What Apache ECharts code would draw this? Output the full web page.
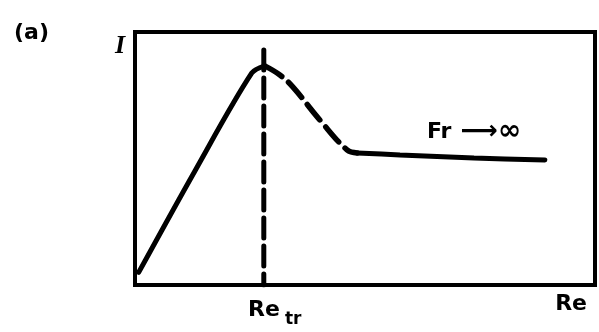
<!DOCTYPE html>
<html>
<head>
<meta charset="utf-8">
<script src="https://cdn.jsdelivr.net/npm/echarts@6/dist/echarts.min.js"></script>
<style>
  html, body { margin: 0; padding: 0; background: #fff; }
  #chart { width: 599px; height: 332px; }
</style>
</head>
<body>
<div id="chart"></div>
<script>
// Sketch of intensity I against Reynolds number Re, peaking at the transition Re_tr.
var risingBranch = [[0.8, 5], [13, 45], [25.4, 83.8], [28.2, 86.6]];
var decayBranch = [[28.2, 86.6], [31.5, 83], [34.3, 78.3], [40.2, 65.2], [46.1, 53.4], [48.3, 52.2]];
var plateauBranch = [[48.3, 52.2], [57.6, 51.4], [73.7, 50.2], [89.1, 49.4]];
var transitionLine = [[28.0, 92.9], [28.0, 0]];
var labelPoint = [[73.7, 50.2]];
var xTickValues = [28.0, 94.8];
var xTickLabels = ['{b|Re}{s|tr}', '{a|Re}'];
var plateauLabel = '{f|Fr}{r| ⟶}{i|∞}';
var yName = 'I';
var panelTag = '(a)';

var chart = echarts.init(document.getElementById('chart'));
var ink = '#000';
var boldFont = 'DejaVu Sans';

chart.setOption({
  animation: false,
  backgroundColor: '#fff',
  title: {
    text: panelTag, left: 9, top: 17,
    textStyle: { fontFamily: boldFont, fontWeight: 'bold', fontSize: 22, color: ink }
  },
  grid: {
    left: 135, top: 32, width: 460, height: 253,
    show: true, borderColor: ink, borderWidth: 4, backgroundColor: 'transparent'
  },
  xAxis: {
    type: 'value', min: 0, max: 100,
    axisLine: { show: false }, axisTick: { show: false }, splitLine: { show: false },
    axisLabel: {
      customValues: xTickValues,
      formatter: function (v) {
        var i = xTickValues.indexOf(v);
        return i >= 0 ? xTickLabels[i] : '';
      },
      margin: 8,
      color: ink,
      rich: {
        a: { fontFamily: boldFont, fontWeight: 'bold', fontSize: 22, color: ink },
        b: { fontFamily: boldFont, fontWeight: 'bold', fontSize: 22, color: ink, padding: [0, 0, 0, 22] },
        s: { fontFamily: boldFont, fontWeight: 'bold', fontSize: 17, color: ink, padding: [18, 0, 0, 5] }
      }
    }
  },
  yAxis: {
    type: 'value', min: 0, max: 100,
    axisLine: { show: false }, axisTick: { show: false }, splitLine: { show: false },
    axisLabel: { show: false },
    name: yName, nameLocation: 'end', nameGap: -27,
    nameTextStyle: {
      fontFamily: 'Liberation Serif', fontStyle: 'italic', fontWeight: 'bold',
      fontSize: 26, color: ink, align: 'right', padding: [0, 10, 0, 0]
    }
  },
  series: [
    {
      type: 'line', data: risingBranch, showSymbol: false, smooth: 0.3,
      lineStyle: { color: ink, width: 5, cap: 'round' }
    },
    {
      type: 'line', data: decayBranch, showSymbol: false, smooth: 0.4,
      lineStyle: { color: ink, width: 5.5, type: [20, 9], cap: 'round' }
    },
    {
      type: 'line', data: plateauBranch, showSymbol: false, smooth: 0.3,
      lineStyle: { color: ink, width: 5, cap: 'round' }
    },
    {
      type: 'line', data: transitionLine, showSymbol: false,
      lineStyle: { color: ink, width: 5, type: [20, 8], cap: 'round' }
    },
    {
      type: 'scatter', data: labelPoint, symbolSize: 0, silent: true,
      itemStyle: { color: ink, opacity: 1 },
      label: {
        show: true, position: 'top', distance: 12, formatter: plateauLabel,
        color: ink, opacity: 1,
        rich: {
          f: { fontFamily: boldFont, fontWeight: 'bold', fontSize: 22, color: ink },
          r: { fontFamily: boldFont, fontWeight: 'bold', fontSize: 26, color: ink },
          i: { fontFamily: boldFont, fontWeight: 'bold', fontSize: 28, color: ink }
        }
      }
    }
  ]
});
</script>
</body>
</html>
